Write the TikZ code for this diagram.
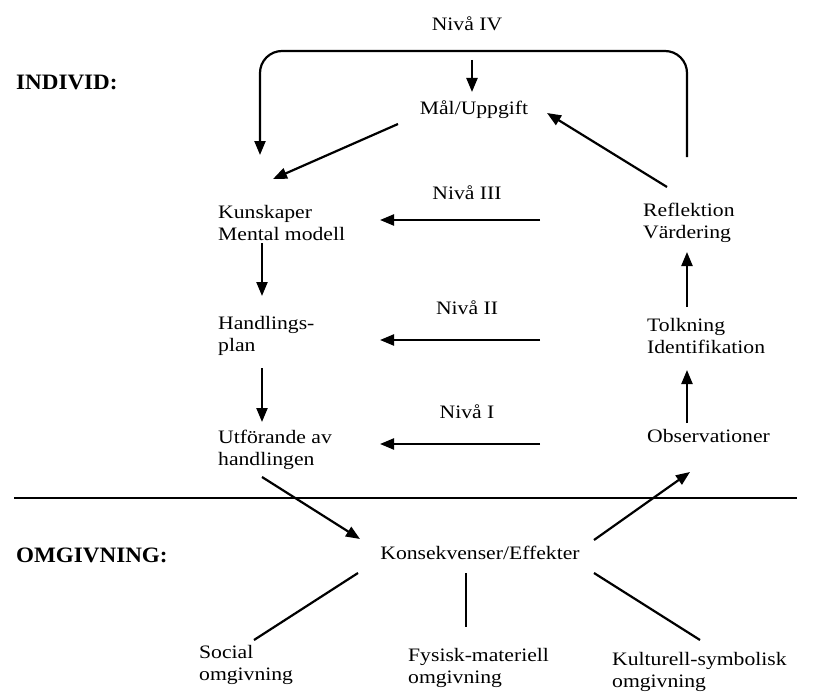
\documentclass[tikz,border=0pt]{standalone}
\usepackage{fontspec}
\setmainfont{Liberation Serif}[FakeStretch=1.14]
\newfontfamily\lblfont{Liberation Serif}[FakeStretch=1.05]
\usetikzlibrary{arrows.meta}
\begin{document}
\begin{tikzpicture}[x=1pt,y=-1pt,
  txt/.style={inner sep=0pt,align=left,font=\fontsize{19}{22}\selectfont},
  lbl/.style={inner sep=0pt,align=left,font=\lblfont\fontsize{22}{26}\selectfont\bfseries},
  arr/.style={line width=2.2pt,-{Triangle[length=14pt,width=11pt]}},
  ln/.style={line width=2.2pt}]
\useasboundingbox (0,0) rectangle (831,693);
% texts
\node[txt] (n4) at (467,24) {Nivå IV};
\node[txt] (mal) at (474,110) {Mål/Uppgift};
\node[lbl,anchor=west] (ind) at (16,82) {INDIVID:};
\node[txt,anchor=west] (kun) at (218,223) {Kunskaper\\Mental modell};
\node[txt,anchor=west] (hand) at (218,336) {Handlings-\\plan};
\node[txt,anchor=west] (utf) at (218,450) {Utförande av\\handlingen};
\node[txt] (n3) at (467,193) {Nivå III};
\node[txt] (n2) at (467,308) {Nivå II};
\node[txt] (n1) at (467,412) {Nivå I};
\node[txt,anchor=west] (refl) at (643,223) {Reflektion\\Värdering};
\node[txt,anchor=west] (tolk) at (647,336) {Tolkning\\Identifikation};
\node[txt,anchor=west] (obs) at (647,436) {Observationer};
\node[lbl,anchor=west] (omg) at (16,555) {OMGIVNING:};
\node[txt] (kons) at (480,553) {Konsekvenser/Effekter};
\node[txt,anchor=west] (soc) at (199,665) {Social\\omgivning};
\node[txt,anchor=west] (fys) at (408,668) {Fysisk-materiell\\omgivning};
\node[txt,anchor=west] (kul) at (612,672) {Kulturell-symbolisk\\omgivning};
% endpoints
\coordinate (loopS) at (687,157);
\coordinate (loopE) at (260,155);
\coordinate (topS) at (472,60);
\coordinate (topE) at (472,92);
\coordinate (malA) at (398,124);
\coordinate (kunA) at (273,179);
\coordinate (reflA) at (667,187);
\coordinate (malB) at (547,113);
\coordinate (r3) at (540,220); \coordinate (l3) at (380,220);
\coordinate (r2) at (540,340); \coordinate (l2) at (380,340);
\coordinate (r1) at (540,444); \coordinate (l1) at (380,444);
\coordinate (kunB) at (262,243); \coordinate (handT) at (262,296);
\coordinate (handB) at (262,368); \coordinate (utfT) at (262,422);
\coordinate (tolkT) at (687,307); \coordinate (reflB) at (687,252);
\coordinate (obsT) at (687,423); \coordinate (tolkB) at (687,370);
\coordinate (utfB) at (262,477); \coordinate (konsL) at (360,539);
\coordinate (konsR) at (594,540); \coordinate (obsB) at (690,472);
\coordinate (divL) at (14,498); \coordinate (divR) at (797,498);
\coordinate (kbl) at (358,573); \coordinate (socT) at (254,640);
\coordinate (kbm) at (466,573); \coordinate (fysT) at (466,627);
\coordinate (kbr) at (594,573); \coordinate (kulT) at (700,640);
% connectors
\draw[arr,rounded corners=22pt] (loopS) -- (687,51) -- (260,51) -- (loopE);
\draw[arr] (topS) -- (topE);
\draw[arr] (malA) -- (kunA);
\draw[arr] (reflA) -- (malB);
\draw[arr] (r3) -- (l3);
\draw[arr] (r2) -- (l2);
\draw[arr] (r1) -- (l1);
\draw[arr] (kunB) -- (handT);
\draw[arr] (handB) -- (utfT);
\draw[arr] (tolkT) -- (reflB);
\draw[arr] (obsT) -- (tolkB);
\draw[arr] (utfB) -- (konsL);
\draw[arr] (konsR) -- (obsB);
\draw[ln] (divL) -- (divR);
\draw[ln] (kbl) -- (socT);
\draw[line width=1.3pt] (kbm) -- (fysT);
\draw[ln] (kbr) -- (kulT);
\end{tikzpicture}
\end{document}
